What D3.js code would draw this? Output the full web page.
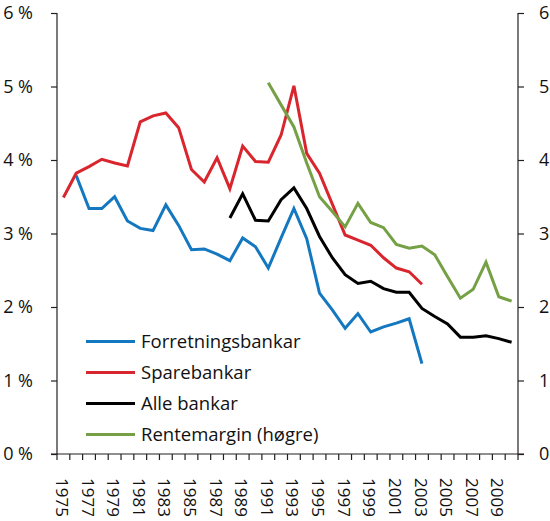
<!DOCTYPE html>
<html>
<head>
<meta charset="utf-8">
<script src="https://cdn.jsdelivr.net/npm/d3@7"></script>
<style>
  html, body { margin: 0; padding: 0; background: #fff; }
  svg { display: block; font-family: "Open Sans", sans-serif; }
</style>
</head>
<body>
<svg id="chart" width="550" height="521"></svg>
<script>
const years = [1975,1976,1977,1978,1979,1980,1981,1982,1983,1984,1985,1986,1987,1988,1989,1990,1991,1992,1993,1994,1995,1996,1997,1998,1999,2000,2001,2002,2003,2004,2005,2006,2007,2008,2009,2010];
const yearLabels = [1975,1977,1979,1981,1983,1985,1987,1989,1991,1993,1995,1997,1999,2001,2003,2005,2007,2009];
const leftTicks = [0,1,2,3,4,5,6];
const rightTicks = [0,1,2,3,4,5,6];

const forretningsbankar = [null,3.79,3.34,3.34,3.50,3.17,3.07,3.04,3.39,3.11,2.78,2.79,2.72,2.63,2.94,2.82,2.53,2.94,3.34,2.93,2.19,1.96,1.71,1.91,1.66,1.73,1.78,1.84,1.23,null,null,null,null,null,null,null];
const sparebankar = [3.49,3.82,3.91,4.01,3.96,3.92,4.52,4.60,4.64,4.44,3.87,3.70,4.03,3.61,4.19,3.98,3.97,4.34,5.01,4.09,3.82,3.40,2.98,2.91,2.84,2.67,2.53,2.48,2.31,null,null,null,null,null,null,null];
const alleBankar = [null,null,null,null,null,null,null,null,null,null,null,null,null,3.21,3.54,3.18,3.17,3.46,3.62,3.34,2.96,2.67,2.44,2.32,2.35,2.25,2.20,2.20,1.98,1.87,1.77,1.59,1.59,1.61,1.57,1.52];
const rentemargin = [null,null,null,null,null,null,null,null,null,null,null,null,null,null,null,null,5.05,4.75,4.45,3.96,3.50,3.30,3.09,3.41,3.15,3.08,2.85,2.80,2.83,2.71,2.41,2.12,2.24,2.61,2.14,2.08];

const seriesNames = ["Forretningsbankar","Sparebankar","Alle bankar","Rentemargin (høgre)"];
const seriesColors = ["#1478c0","#d9262e","#000000","#76a046"];

const series = [
  {name: seriesNames[0], values: forretningsbankar, color: seriesColors[0], axis: "left"},
  {name: seriesNames[1], values: sparebankar, color: seriesColors[1], axis: "left"},
  {name: seriesNames[2], values: alleBankar, color: seriesColors[2], axis: "left"},
  {name: seriesNames[3], values: rentemargin, color: seriesColors[3], axis: "right"}
];

const svg = d3.select("#chart");
const mLeft = 57, mRight = 518, mTop = 13, mBottom = 454;
const axisColor = "#231f20";

const x = d3.scaleBand().domain(years).range([mLeft, mRight]).padding(0);
const yL = d3.scaleLinear().domain([0, 6]).range([mBottom, mTop]);
const yR = d3.scaleLinear().domain([0, 6]).range([mBottom, mTop]);

// Left axis
const gL = svg.append("g").attr("transform", `translate(${mLeft},0)`)
  .call(d3.axisLeft(yL).tickValues(leftTicks).tickSize(6).tickPadding(18).tickFormat(d => d + " %"));
// Right axis
const gR = svg.append("g").attr("transform", `translate(${mRight},0)`)
  .call(d3.axisRight(yR).tickValues(rightTicks).tickSize(6).tickPadding(15).tickFormat(d => d));
[gL, gR].forEach(g => {
  g.select(".domain").attr("stroke", axisColor).attr("stroke-width", 1.2).attr("d", `M0,${mTop}V${mBottom}`);
  g.selectAll(".tick line").attr("stroke", axisColor).attr("stroke-width", 1.2);
  g.selectAll(".tick text").attr("fill", "#111").style("font-size", "18px").style("font-family", "Open Sans, sans-serif");
});

// Bottom axis
const gX = svg.append("g").attr("transform", `translate(0,${mBottom})`);
gX.append("line").attr("x1", mLeft - 6).attr("x2", mRight + 6).attr("y1", 0).attr("y2", 0)
  .attr("stroke", axisColor).attr("stroke-width", 1.2);
const boundaries = years.map(d => x(d)).concat([x(years[years.length - 1]) + x.bandwidth()]);
gX.selectAll("line.tk").data(boundaries).enter().append("line").attr("class", "tk")
  .attr("x1", d => d).attr("x2", d => d).attr("y1", 0).attr("y2", 6)
  .attr("stroke", axisColor).attr("stroke-width", 1.2);
gX.selectAll("text.yl").data(yearLabels).enter().append("text").attr("class", "yl")
  .attr("transform", d => `translate(${x(d) + x.bandwidth() / 2 - 1.5},24) rotate(90)`)
  .attr("dy", "0.35em")
  .attr("text-anchor", "start")
  .attr("fill", "#111")
  .style("font-size", "17px")
  .text(d => d);

// Lines
series.forEach(s => {
  const yS = s.axis === "left" ? yL : yR;
  const line = d3.line()
    .defined(d => d.v !== null)
    .x(d => x(d.year) + x.bandwidth() / 2)
    .y(d => yS(d.v));
  const data = years.map((yr, i) => ({year: yr, v: s.values[i]}));
  svg.append("path").datum(data)
    .attr("d", line)
    .attr("fill", "none")
    .attr("stroke", s.color)
    .attr("stroke-width", 3)
    .attr("stroke-linejoin", "miter");
});

// Legend
const legend = svg.append("g");
const legendY = [341.5, 372.5, 403.5, 434.5];
series.forEach((s, i) => {
  legend.append("line").attr("x1", 86).attr("x2", 135).attr("y1", legendY[i]).attr("y2", legendY[i])
    .attr("stroke", s.color).attr("stroke-width", 3);
  legend.append("text").attr("x", 141).attr("y", legendY[i]).attr("dy", "0.36em")
    .attr("fill", "#111").style("font-size", "18.5px").text(s.name);
});
</script>
</body>
</html>
